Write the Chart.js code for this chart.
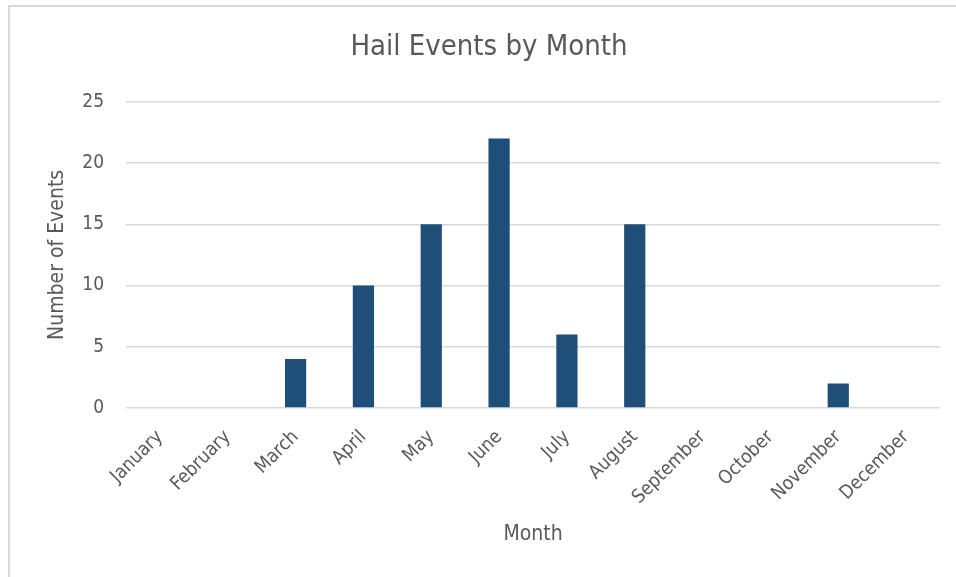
<!DOCTYPE html>
<html>
<head>
<meta charset="utf-8">
<title>Hail Events by Month</title>
<script src="https://cdn.jsdelivr.net/npm/chart.js@4.4.1/dist/chart.umd.min.js"></script>
<style>
  html, body { margin: 0; padding: 0; background: #fff; overflow: hidden; }
  .frame {
    position: absolute;
    left: 8px;
    top: 5px;
    width: 1000px;
    height: 1000px;
    border: 2px solid #d9d9d9;
    box-sizing: border-box;
  }
  .chart-box { position: absolute; left: 0; top: 0; width: 956px; height: 577px; }
</style>
</head>
<body>
<div class="frame"></div>
<div class="chart-box"><canvas id="hailChart" width="956" height="577"></canvas></div>
<script>
// Monthly hail event counts
const months = ['January', 'February', 'March', 'April', 'May', 'June',
  'July', 'August', 'September', 'October', 'November', 'December'];
const hailEvents = [0, 0, 4, 10, 15, 22, 6, 15, 0, 0, 2, 0];
const yTicks = [0, 5, 10, 15, 20, 25];

const FONT = '"DejaVu Sans Condensed", "DejaVu Sans", sans-serif';
const TEXT = '#595959';
const GRID = '#d9d9d9';

const ctx = document.getElementById('hailChart').getContext('2d');

new Chart(ctx, {
  type: 'bar',
  data: {
    labels: months,
    datasets: [{
      label: 'Hail Events',
      data: hailEvents,
      backgroundColor: '#1f4e79',
      barPercentage: 0.313,
      categoryPercentage: 1
    }]
  },
  options: {
    responsive: false,
    animation: false,
    layout: {
      padding: { left: 38, right: 16, top: 0, bottom: 0 }
    },
    plugins: {
      legend: { display: false },
      tooltip: { enabled: false },
      title: {
        display: true,
        text: 'Hail Events by Month',
        color: TEXT,
        font: { family: FONT, size: 29, weight: 'normal' },
        padding: { top: 30, bottom: 37 }
      }
    },
    scales: {
      x: {
        grid: { display: false, drawTicks: false },
        border: { display: false },
        ticks: {
          color: TEXT,
          font: { family: FONT, size: 19 },
          minRotation: 45,
          maxRotation: 45,
          autoSkip: false,
          padding: 18
        },
        title: {
          display: true,
          text: 'Month',
          color: TEXT,
          font: { family: FONT, size: 21 },
          padding: { top: 0, bottom: 30 }
        },
        // fixed axis band keeps the plot bottom at the same height
        afterFit: (scale) => { scale.height = 169; }
      },
      y: {
        min: 0,
        max: 25,
        afterBuildTicks: (scale) => {
          scale.ticks = yTicks.map(v => ({ value: v }));
        },
        grid: { color: GRID, lineWidth: 1.5, drawTicks: false },
        border: { display: false },
        ticks: {
          color: TEXT,
          font: { family: FONT, size: 19 },
          padding: 22
        },
        title: {
          display: true,
          text: 'Number of Events',
          color: TEXT,
          font: { family: FONT, size: 21 },
          padding: { top: 7, bottom: 0 }
        },
        afterFit: (scale) => { scale.width = 88; }
      }
    }
  }
});
</script>
</body>
</html>
